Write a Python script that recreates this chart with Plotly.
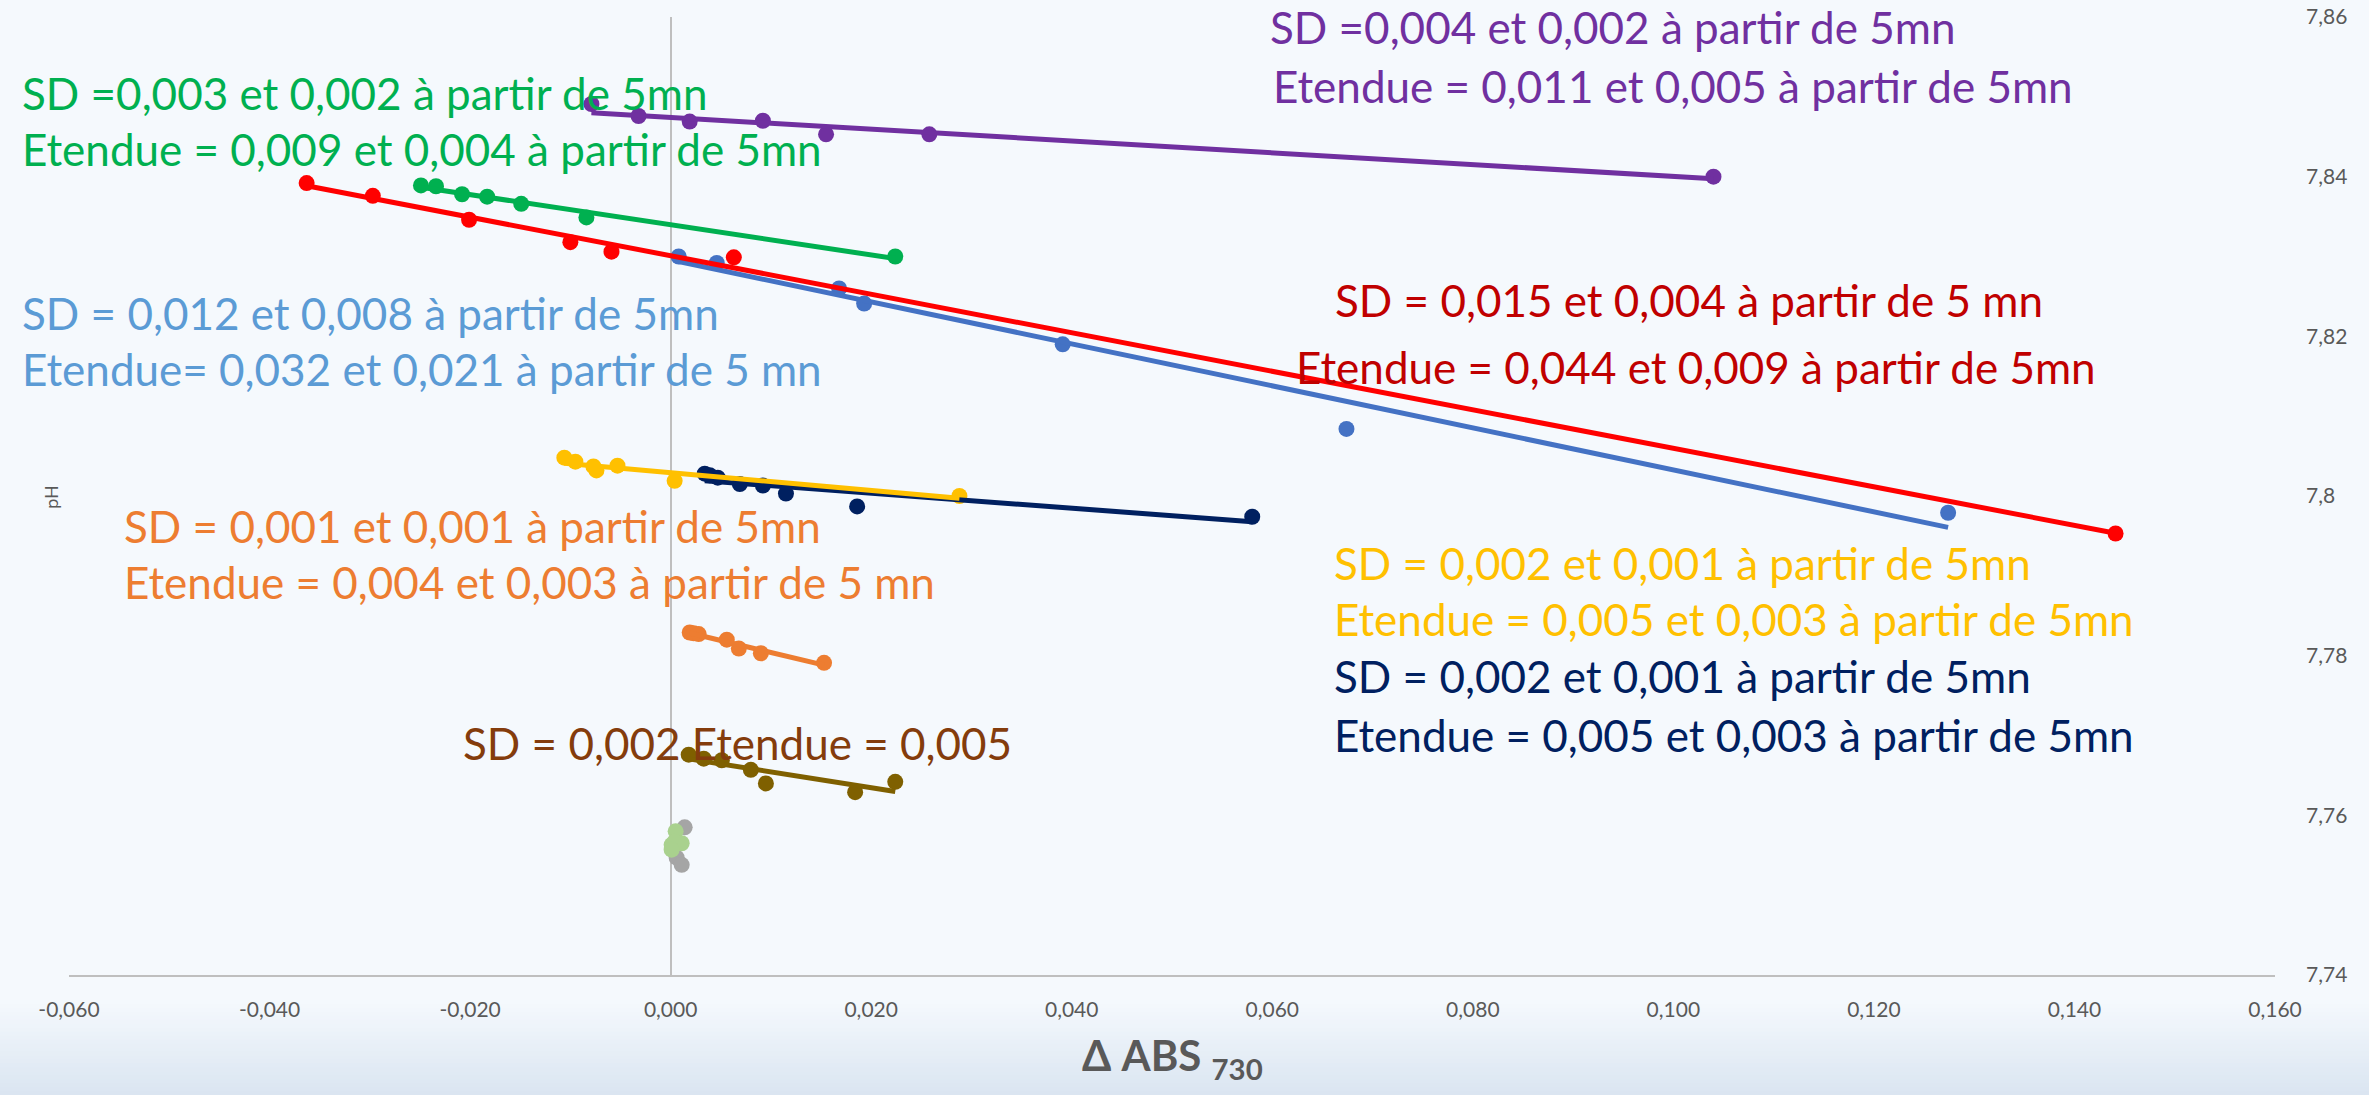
import numpy as np
import plotly.graph_objects as go

# ---- data: pH versus delta absorbance at 730 nm, one series per culture ----
purple_x = [-0.0079, -0.0032, 0.0019, 0.0092, 0.0155, 0.0258, 0.1040]
purple_y = [7.8491, 7.8476, 7.8469, 7.8470, 7.8453, 7.8453, 7.8400]

green_x = [-0.0249, -0.0234, -0.0208, -0.0183, -0.0149, -0.0084, 0.0224]
green_y = [7.8389, 7.8388, 7.8378, 7.8375, 7.8366, 7.8349, 7.8300]

red_x = [-0.0363, -0.0297, -0.0201, -0.0100, -0.0059, 0.0063, 0.1441]
red_y = [7.8392, 7.8376, 7.8346, 7.8318, 7.8306, 7.8299, 7.7953]

blue_x = [0.0008, 0.0046, 0.0168, 0.0193, 0.0391, 0.0674, 0.1274]
blue_y = [7.8300, 7.8292, 7.8260, 7.8241, 7.8190, 7.8084, 7.7979]

yellow_x = [-0.0106, -0.0095, -0.0077, -0.0074, -0.0053, 0.0004, 0.0288]
yellow_y = [7.8048, 7.8043, 7.8037, 7.8032, 7.8038, 7.8019, 7.8000]

navy_x = [0.0034, 0.0039, 0.0047, 0.0069, 0.0092, 0.0115, 0.0186, 0.0580]
navy_y = [7.8028, 7.8026, 7.8023, 7.8015, 7.8013, 7.8003, 7.7987, 7.7974]

orange_x = [0.0019, 0.0023, 0.0028, 0.0056, 0.0068, 0.0090, 0.0153]
orange_y = [7.7829, 7.7828, 7.7827, 7.7820, 7.7809, 7.7803, 7.7791]

brown_x = [0.0018, 0.0033, 0.0051, 0.0080, 0.0095, 0.0184, 0.0224]
brown_y = [7.7676, 7.7671, 7.7669, 7.7657, 7.7640, 7.7629, 7.7642]

gray_x = [0.0014, 0.0006, 0.0011]
gray_y = [7.7585, 7.7547, 7.7538]

lightgreen_x = [0.0005, 0.0011, 0.0001, 0.0004, 0.0001]
lightgreen_y = [7.7580, 7.7565, 7.7563, 7.7567, 7.7557]

x_tick_vals = [-0.06, -0.04, -0.02, 0.0, 0.02, 0.04, 0.06, 0.08, 0.10, 0.12, 0.14, 0.16]
x_tick_text = ["-0,060", "-0,040", "-0,020", "0,000", "0,020", "0,040",
               "0,060", "0,080", "0,100", "0,120", "0,140", "0,160"]
y_tick_vals = [7.74, 7.76, 7.78, 7.80, 7.82, 7.84, 7.86]
y_tick_text = ["7,74", "7,76", "7,78", "7,8", "7,82", "7,84", "7,86"]

X_RANGE = [-0.06, 0.16]
Y_RANGE = [7.74, 7.86]

# (x, y, colour, has_trendline)
series = [
    (purple_x, purple_y, "#7030A0", True),
    (green_x, green_y, "#00B050", True),
    (red_x, red_y, "#FF0000", True),
    (blue_x, blue_y, "#4472C4", True),
    (yellow_x, yellow_y, "#FFC000", True),
    (navy_x, navy_y, "#002060", True),
    (orange_x, orange_y, "#ED7D31", True),
    (brown_x, brown_y, "#7F6000", True),
    (gray_x, gray_y, "#A5A5A5", False),
    (lightgreen_x, lightgreen_y, "#A9D18E", False),
]

# trendlines are drawn over the markers, in this order
trend_order = ["#002060", "#FFC000", "#4472C4", "#FF0000", "#00B050",
               "#7030A0", "#ED7D31", "#7F6000"]

# (text, x, y, colour) written next to the series, in axis units
notes = [
    ("SD =0,004 et 0,002 à partir de 5mn", 0.0596, 7.8587, "#7030A0"),
    ("Etendue = 0,011 et 0,005 à partir de 5mn", 0.0599, 7.8514, "#7030A0"),
    ("SD =0,003 et 0,002 à partir de 5mn", -0.0649, 7.8505, "#00B050"),
    ("Etendue = 0,009 et 0,004 à partir de 5mn", -0.0649, 7.8435, "#00B050"),
    ("SD = 0,012 et 0,008 à partir de 5mn", -0.0649, 7.8229, "#5B9BD5"),
    ("Etendue= 0,032 et 0,021 à partir de 5 mn", -0.0649, 7.8159, "#5B9BD5"),
    ("SD = 0,015 et 0,004 à partir de 5 mn", 0.0661, 7.8246, "#C00000"),
    ("Etendue = 0,044 et 0,009 à partir de 5mn", 0.0622, 7.8161, "#C00000"),
    ("SD = 0,001 et 0,001 à partir de 5mn", -0.0547, 7.7962, "#ED7D31"),
    ("Etendue = 0,004 et 0,003 à partir de 5 mn", -0.0547, 7.7892, "#ED7D31"),
    ("SD = 0,002 et 0,001 à partir de 5mn", 0.0660, 7.7916, "#FFC000"),
    ("Etendue = 0,005 et 0,003 à partir de 5mn", 0.0660, 7.7846, "#FFC000"),
    ("SD = 0,002 et 0,001 à partir de 5mn", 0.0660, 7.7774, "#002060"),
    ("Etendue = 0,005 et 0,003 à partir de 5mn", 0.0660, 7.7701, "#002060"),
    ("SD = 0,002 Etendue = 0,005", -0.0209, 7.7690, "#843C0C"),
]

FONT = "Lato, 'Open Sans', sans-serif"
BG = "#F5F9FD"

fig = go.Figure()

for xs, ys, col, _ in series:
    fig.add_trace(go.Scatter(x=xs, y=ys, mode="markers",
                             marker=dict(color=col, size=16, line=dict(width=0)),
                             showlegend=False, hoverinfo="x+y"))

fits = {col: (xs, ys) for xs, ys, col, has in series if has}
for col in trend_order:
    xs, ys = fits[col]
    slope, icpt = np.polyfit(xs, ys, 1)
    xe = np.array([min(xs), max(xs)])
    fig.add_trace(go.Scatter(x=xe, y=slope * xe + icpt, mode="lines",
                             line=dict(color=col, width=5),
                             showlegend=False, hoverinfo="skip"))


def to_paper(v, rng):
    return (v - rng[0]) / (rng[1] - rng[0])


annotations = []
for text, ax, ay, col in notes:
    # paper references keep notes visible even when they start left of the axis range
    annotations.append(dict(text=text, x=to_paper(ax, X_RANGE), y=to_paper(ay, Y_RANGE),
                            xref="paper", yref="paper",
                            xanchor="left", yanchor="middle", showarrow=False,
                            font=dict(family=FONT, size=44, color=col)))

annotations.append(dict(text="<b>Δ ABS <sub>730</sub></b>", x=0.5, y=-0.087,
                        xref="paper", yref="paper", xanchor="center",
                        yanchor="middle", showarrow=False,
                        font=dict(family=FONT, size=42, color="#595959")))
annotations.append(dict(text="pH", x=-0.0082, y=0.499, xref="paper", yref="paper",
                        xanchor="center", yanchor="middle", showarrow=False,
                        textangle=-90,
                        font=dict(family=FONT, size=18, color="#595959")))

# soft blue fade along the bottom edge of the page
shapes = []
top_px, bot_px, n = 1000, 1095, 24
c0 = np.array([0xF5, 0xF9, 0xFD])
c1 = np.array([0xDA, 0xE5, 0xF1])
for i in range(n):
    t = (i + 0.5) / n
    c = (c0 + (c1 - c0) * t).round().astype(int)
    y_a = (975 - (top_px + (bot_px - top_px) * i / n)) / 958
    y_b = (975 - (top_px + (bot_px - top_px) * (i + 1) / n)) / 958
    shapes.append(dict(type="rect", xref="paper", yref="paper",
                       x0=-0.05, x1=1.05, y0=y_b - 0.002, y1=y_a,
                       fillcolor="rgb(%d,%d,%d)" % tuple(c), line=dict(width=0),
                       layer="below"))

fig.update_layout(
    width=2369, height=1095,
    margin=dict(l=69, r=94, t=17, b=120),
    paper_bgcolor=BG, plot_bgcolor="rgba(0,0,0,0)",
    font=dict(family=FONT, color="#595959"),
    showlegend=False,
    annotations=annotations,
    shapes=shapes,
    xaxis=dict(range=X_RANGE, tickvals=x_tick_vals, ticktext=x_tick_text,
               showgrid=False, zeroline=True, zerolinecolor="#BFBFBF",
               zerolinewidth=2, showline=True, linecolor="#BFBFBF", linewidth=2,
               ticks="", ticklabelstandoff=15, automargin=False,
               tickfont=dict(family=FONT, size=21, color="#595959")),
    yaxis=dict(range=Y_RANGE, tickvals=y_tick_vals, ticktext=y_tick_text,
               side="right", showgrid=False, zeroline=False, showline=False,
               ticks="", ticklabelstandoff=30, automargin=False,
               tickfont=dict(family=FONT, size=21, color="#595959")),
)

fig.write_html("out.html")
